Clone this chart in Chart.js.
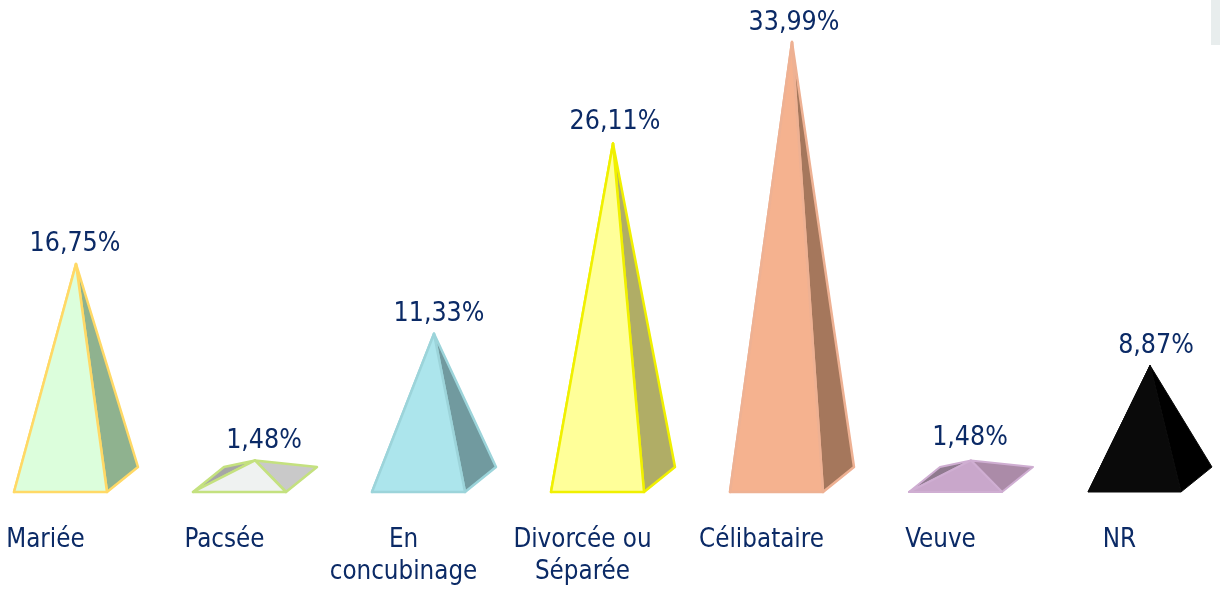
<!DOCTYPE html>
<html lang="fr">
<head>
<meta charset="utf-8">
<title>Situation familiale</title>
<script src="https://cdn.jsdelivr.net/npm/chart.js@4/dist/chart.umd.min.js"></script>
<style>
  html, body { margin: 0; padding: 0; background: #fff; overflow: hidden; }
  #wrap { position: relative; width: 1220px; height: 589px; }
  #canvas { display: block; }
  #corner { position: absolute; left: 1211px; top: 0; width: 9px; height: 45px; background: #e8eded; }
</style>
</head>
<body>
<div id="wrap">
  <canvas id="canvas" width="1220" height="589"></canvas>
  <div id="corner"></div>
</div>
<script>
const categories = ['Mariée', 'Pacsée', ['En', 'concubinage'], ['Divorcée ou', 'Séparée'], 'Célibataire', 'Veuve', 'NR'];
const values = [16.75, 1.48, 11.33, 26.11, 33.99, 1.48, 8.87];

// Faces of each pyramid
const frontColors = ['#dcfedc', '#eff2f1', '#ace5ec', '#ffff99', '#f5b28f', '#c9a7cb', '#0a0a0a'];
const rightColors = ['#8fb28f', '#c9c9c9', '#719a9f', '#b0ad66', '#a5775c', '#ab8ba8', '#000000'];
const leftColors = ['#8fb28f', '#a6a6a6', '#719a9f', '#b0ad66', '#a5775c', '#8f7a8f', '#000000'];
const edgeColors = ['#ffd966', '#c4e17f', '#9cd4da', '#f0f000', '#eeb193', '#cfaed2', '#0a0a0a'];
const edgeWidths = [2.5, 2.5, 2.5, 2.5, 2.5, 2, 1];

// Small nudges of the value labels, in px
const labelShiftX = [-1, 9, 5, 2, 2, -1, 6];
const labelShiftY = [-20, -19, -20, -21, -19, -22, -19];

const baseWidth = 93;
const depthX = 31;
const depthY = 25;
const textColor = '#0b2a66';
const textFont = '"DejaVu Sans Condensed", "DejaVu Sans", sans-serif';

function fillFace(ctx, points, fill, edge, width) {
  ctx.beginPath();
  points.forEach((p, i) => i ? ctx.lineTo(p[0], p[1]) : ctx.moveTo(p[0], p[1]));
  ctx.closePath();
  ctx.fillStyle = fill;
  ctx.fill();
  ctx.strokeStyle = edge;
  ctx.lineWidth = width;
  ctx.lineJoin = 'round';
  ctx.stroke();
}

// The bars stay invisible, the pyramids are drawn on top of their geometry
const pyramidPlugin = {
  id: 'pyramids',
  afterDatasetsDraw(chart) {
    const ctx = chart.ctx;
    ctx.save();
    chart.getDatasetMeta(0).data.forEach((bar, i) => {
      const half = bar.width / 2;
      const frontX = bar.x - depthX / 2;
      const frontY = bar.base + depthY / 2;
      const backX = bar.x + depthX / 2;
      const backY = bar.base - depthY / 2;
      const apex = [bar.x, bar.y];
      const fl = [frontX - half, frontY];
      const fr = [frontX + half, frontY];
      const bl = [backX - half, backY];
      const br = [backX + half, backY];

      fillFace(ctx, [fl, bl, apex], leftColors[i], edgeColors[i], edgeWidths[i]);
      fillFace(ctx, [fr, br, apex], rightColors[i], edgeColors[i], edgeWidths[i]);
      fillFace(ctx, [fl, fr, apex], frontColors[i], edgeColors[i], edgeWidths[i]);

      ctx.fillStyle = textColor;
      ctx.font = '26.5px ' + textFont;
      ctx.textAlign = 'center';
      ctx.textBaseline = 'middle';
      const text = values[i].toFixed(2).replace('.', ',') + '%';
      ctx.fillText(text, bar.x + labelShiftX[i], bar.y + labelShiftY[i]);
    });
    ctx.restore();
  }
};

const canvas = document.getElementById('canvas');
const chart = new Chart(canvas, {
  type: 'bar',
  data: {
    labels: categories,
    datasets: [{
      data: values,
      backgroundColor: 'rgba(0,0,0,0)',
      borderWidth: 0,
      barThickness: baseWidth,
    }],
  },
  options: {
    responsive: false,
    animation: false,
    layout: { padding: { left: 76, right: 70, top: 16.2, bottom: 0 } },
    plugins: { legend: { display: false }, tooltip: { enabled: false } },
    scales: {
      x: {
        offset: false,
        grid: { display: false, drawTicks: false },
        border: { display: false },
        afterFit(scale) {
          scale.height = 109.5;
          scale.paddingLeft = 0;
          scale.paddingRight = 0;
        },
        ticks: {
          autoSkip: false,
          maxRotation: 0,
          padding: 45,
          labelOffset: -30.5,
          color: textColor,
          font: { family: textFont, size: 25.7, lineHeight: 1.25 },
        },
      },
      y: { display: false, min: 0, max: 36 },
    },
  },
  plugins: [pyramidPlugin],
});
</script>
</body>
</html>
